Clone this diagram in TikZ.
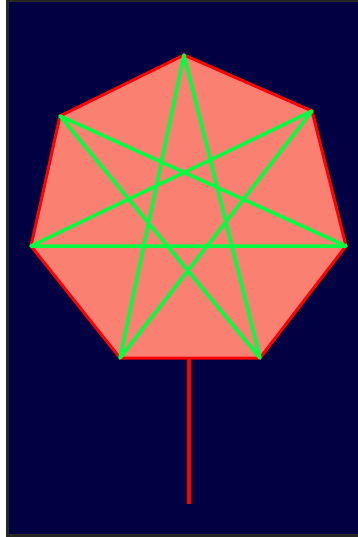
\documentclass[tikz,border=0pt]{standalone}
\definecolor{navybg}{RGB}{0,0,66}
\definecolor{salmonfill}{RGB}{250,128,114}
\definecolor{starline}{RGB}{0,255,64}
\definecolor{rimred}{RGB}{255,0,0}
\tikzset{
  rim/.style={draw=rimred,line width=3pt,line join=round,fill=salmonfill},
  starstroke/.style={draw=starline,line width=3.5pt,line join=round},
  stick/.style={draw=rimred,line width=3.5pt}
}
\begin{document}
\begin{tikzpicture}[x=1pt,y=-1pt]
\useasboundingbox (0,0) rectangle (358,537);
\fill[white] (0,0) rectangle (358,537);
\fill[black!85] (6,0) rectangle (358,537);
\fill[navybg] (9,2) rectangle (358,534);
\coordinate (v0) at (184,55);
\coordinate (v1) at (312,111);
\coordinate (v2) at (346,246);
\coordinate (v3) at (260,358);
\coordinate (v4) at (120,358);
\coordinate (v5) at (31,246);
\coordinate (v6) at (60,116);
\coordinate (stem) at (189,358);
\coordinate (stemend) at (189,504);
\draw[stick] (stem) -- (stemend);
\draw[rim] (v0) -- (v1) -- (v2) -- (v3) -- (v4) -- (v5) -- (v6) -- cycle;
\draw[starstroke] (v0) -- (v3) -- (v6) -- (v2) -- (v5) -- (v1) -- (v4) -- cycle;
\end{tikzpicture}
\end{document}
